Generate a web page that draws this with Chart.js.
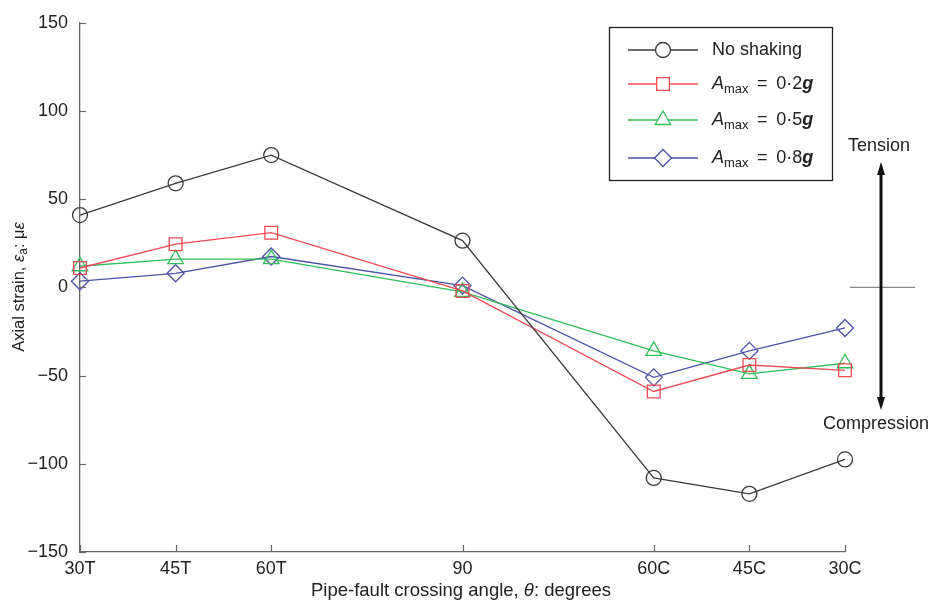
<!DOCTYPE html>
<html>
<head>
<meta charset="utf-8">
<script src="https://cdn.jsdelivr.net/npm/chart.js@4.4.1/dist/chart.umd.min.js"></script>
<style>
  html, body { margin: 0; padding: 0; background: #fff; }
  #wrap { width: 932px; height: 604px; }
</style>
</head>
<body>
<div id="wrap"><canvas id="strainChart"></canvas></div>
<script>
// crossing angle categories and their place along the axis
const angleLabels = ['30T', '45T', '60T', '90', '60C', '45C', '30C'];
const anglePos = [0, 1, 2, 4, 6, 7, 8];

// axial strain (micro-strain)
const noShaking = [41, 59, 75, 26.5, -108, -117, -97.5];
const amax02 = [11, 24.5, 31, -2, -59, -44, -47];
const amax05 = [12, 16, 16, -2.5, -36, -49, -43];
const amax08 = [3.5, 8, 17.5, 1, -51, -36, -23];

const yTicks = [-150, -100, -50, 0, 50, 100, 150];

const FONT = '"Liberation Sans", Arial, sans-serif';
const TXT = '#222';

function pts(vals) {
  return vals.map((v, i) => ({ x: anglePos[i], y: v }));
}

function series(label, vals, color, style, radius) {
  return {
    label: label,
    data: pts(vals),
    borderColor: color,
    backgroundColor: 'rgba(0,0,0,0)',
    borderWidth: 1.3,
    pointStyle: style,
    pointRadius: radius,
    pointBorderWidth: 1.3,
    pointBorderColor: color,
    pointBackgroundColor: 'rgba(0,0,0,0)',
    tension: 0,
    clip: false
  };
}

const colBlack = '#3a3a3a';
const colRed = '#ee4a55';
const colGreen = '#2fbf5a';
const colBlue = '#4b50a8';

const markerSize = { circle: 7.5, rect: 9, triangle: 9, rectRot: 8.5 };

// draw a run of text pieces with different styles
function richText(ctx, parts, x, y, size) {
  let cx = x;
  parts.forEach(p => {
    const s = p.sub ? size * 0.72 : size;
    ctx.font = (p.it ? 'italic ' : '') + (p.b ? 'bold ' : '') + s + 'px ' + FONT;
    ctx.fillText(p.t, cx, y + (p.sub ? size * 0.3 : 0));
    cx += ctx.measureText(p.t).width;
  });
  return cx - x;
}
function richWidth(ctx, parts, size) {
  let w = 0;
  parts.forEach(p => {
    const s = p.sub ? size * 0.72 : size;
    ctx.font = (p.it ? 'italic ' : '') + (p.b ? 'bold ' : '') + s + 'px ' + FONT;
    w += ctx.measureText(p.t).width;
  });
  return w;
}

const legendItems = [
  { color: colBlack, style: 'circle', parts: [{ t: 'No shaking' }] },
  { color: colRed, style: 'rect', parts: [{ t: 'A', it: true }, { t: 'max', sub: true }, { t: ' \u2009=\u2009 0\u00b72' }, { t: 'g', it: true, b: true }] },
  { color: colGreen, style: 'triangle', parts: [{ t: 'A', it: true }, { t: 'max', sub: true }, { t: ' \u2009=\u2009 0\u00b75' }, { t: 'g', it: true, b: true }] },
  { color: colBlue, style: 'rectRot', parts: [{ t: 'A', it: true }, { t: 'max', sub: true }, { t: ' \u2009=\u2009 0\u00b78' }, { t: 'g', it: true, b: true }] }
];

const extras = {
  id: 'extras',
  afterDraw(chart) {
    const ctx = chart.ctx;
    const xs = chart.scales.x, ys = chart.scales.y;
    const area = chart.chartArea;
    ctx.save();

    // inward tick marks
    ctx.strokeStyle = '#666';
    ctx.lineWidth = 1.2;
    yTicks.forEach(v => {
      const py = Math.round(ys.getPixelForValue(v)) + 0.5;
      ctx.beginPath(); ctx.moveTo(area.left, py); ctx.lineTo(area.left + 6, py); ctx.stroke();
    });
    anglePos.forEach(v => {
      const px = Math.round(xs.getPixelForValue(v)) + 0.5;
      ctx.beginPath(); ctx.moveTo(px, area.bottom); ctx.lineTo(px, area.bottom - 7); ctx.stroke();
    });

    // legend box
    const bx = 609, by = 27, bw = 223, bh = 153;
    ctx.strokeStyle = '#222';
    ctx.lineWidth = 1.3;
    ctx.strokeRect(bx + 0.5, by + 0.5, bw, bh);
    const rows = [50, 84, 120, 158];
    ctx.textBaseline = 'middle';
    ctx.textAlign = 'left';
    legendItems.forEach((it, i) => {
      const ry = rows[i];
      ctx.strokeStyle = it.color;
      ctx.lineWidth = 1.3;
      ctx.beginPath(); ctx.moveTo(628, ry); ctx.lineTo(698, ry); ctx.stroke();
      ctx.fillStyle = '#fff';
      Chart.helpers.drawPoint(ctx, {
        pointStyle: it.style, radius: markerSize[it.style], borderWidth: 1.3
      }, 663, ry);
      ctx.fillStyle = TXT;
      richText(ctx, it.parts, 712, ry, 18);
    });

    // tension / compression marker
    const zx = 881;
    const y0 = ys.getPixelForValue(0);
    ctx.strokeStyle = '#888';
    ctx.lineWidth = 1.2;
    ctx.beginPath(); ctx.moveTo(850, y0); ctx.lineTo(915, y0); ctx.stroke();
    ctx.strokeStyle = '#111';
    ctx.fillStyle = '#111';
    ctx.lineWidth = 3;
    ctx.beginPath(); ctx.moveTo(zx, 172); ctx.lineTo(zx, 400); ctx.stroke();
    ctx.beginPath(); ctx.moveTo(zx, 162); ctx.lineTo(zx - 4, 175); ctx.lineTo(zx + 4, 175); ctx.closePath(); ctx.fill();
    ctx.beginPath(); ctx.moveTo(zx, 410); ctx.lineTo(zx - 4, 397); ctx.lineTo(zx + 4, 397); ctx.closePath(); ctx.fill();
    ctx.fillStyle = TXT;
    ctx.font = '18px ' + FONT;
    ctx.textAlign = 'center';
    ctx.fillText('Tension', 879, 146);
    ctx.fillText('Compression', 876, 424);

    // x axis title
    const xt = [{ t: 'Pipe-fault crossing angle, ' }, { t: '\u03b8', it: true }, { t: ': degrees' }];
    ctx.textAlign = 'left';
    const xw = richWidth(ctx, xt, 18.5);
    richText(ctx, xt, 461 - xw / 2, 591, 18.5);

    // y axis title
    ctx.translate(19, 287);
    ctx.rotate(-Math.PI / 2);
    const yt = [{ t: 'Axial strain, ' }, { t: '\u03b5', it: true }, { t: 'a', sub: true }, { t: ': \u03bc' }, { t: '\u03b5', it: true }];
    const yw = richWidth(ctx, yt, 16.5);
    richText(ctx, yt, -yw / 2, 0, 16.5);
    ctx.restore();
  }
};

const ctx = document.getElementById('strainChart').getContext('2d');
const strainChart = new Chart(ctx, {
  type: 'line',
  data: {
    datasets: [
      series('No shaking', noShaking, colBlack, 'circle', markerSize.circle),
      series('Amax = 0.2g', amax02, colRed, 'rect', markerSize.rect),
      series('Amax = 0.5g', amax05, colGreen, 'triangle', markerSize.triangle),
      series('Amax = 0.8g', amax08, colBlue, 'rectRot', markerSize.rectRot)
    ]
  },
  options: {
    responsive: true,
    maintainAspectRatio: false,
    animation: false,
    layout: { padding: { left: 0, right: 87, top: 20, bottom: 0 } },
    plugins: {
      legend: { display: false },
      tooltip: { enabled: false }
    },
    scales: {
      x: {
        type: 'linear',
        min: 0,
        max: 8,
        afterBuildTicks(scale) {
          scale.ticks = anglePos.map(v => ({ value: v }));
        },
        afterFit(scale) { scale.height = 52; },
        ticks: {
          autoSkip: false,
          maxRotation: 0,
          padding: 6,
          color: TXT,
          font: { family: FONT, size: 18 },
          callback(v) {
            const i = anglePos.indexOf(v);
            return i >= 0 ? angleLabels[i] : '';
          }
        },
        grid: { drawOnChartArea: false, drawTicks: false },
        border: { display: true, color: '#666', width: 1.3 }
      },
      y: {
        min: -150,
        max: 150,
        afterBuildTicks(scale) {
          scale.ticks = yTicks.map(v => ({ value: v }));
        },
        afterFit(scale) { scale.width = 80; },
        ticks: {
          padding: 12,
          color: TXT,
          font: { family: FONT, size: 18 },
          callback(v) { return v < 0 ? '\u2212' + Math.abs(v) : String(v); }
        },
        grid: { drawOnChartArea: false, drawTicks: false },
        border: { display: true, color: '#666', width: 1.3 }
      }
    }
  },
  plugins: [extras]
});
</script>
</body>
</html>
